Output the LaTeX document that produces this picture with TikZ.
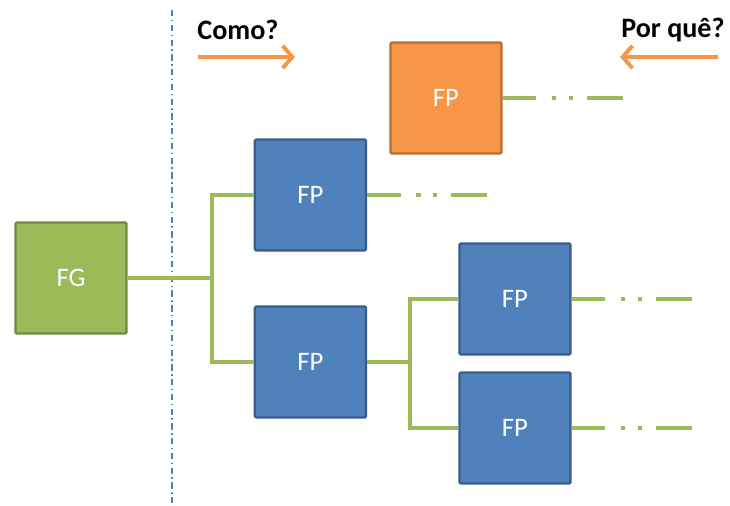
\documentclass[tikz,border=0pt]{standalone}
\usepackage{fontspec}
\setmainfont{Carlito}
\usetikzlibrary{positioning,arrows.meta}
\definecolor{fgfill}{HTML}{9BBB59}
\definecolor{fgdraw}{HTML}{71893F}
\definecolor{fpfill}{HTML}{4F81BD}
\definecolor{fpdraw}{HTML}{385D8A}
\definecolor{orfill}{HTML}{F79646}
\definecolor{ordraw}{HTML}{B66D31}
\definecolor{linkcol}{HTML}{9BBB59}
\definecolor{arrowcol}{HTML}{F79646}
\definecolor{axiscol}{HTML}{4F81BD}

\begin{document}
\begin{tikzpicture}
        \tikzstyle{box}=[rectangle, rounded corners=1pt, line width=1.6pt, inner sep=0pt, minimum size=2.78cm, text=white, font=\fontsize{19}{21}\selectfont]
        \tikzstyle{link}=[draw=linkcol, line width=2.8pt]
        \tikzstyle{trail}=[link, dash pattern=on 24pt off 11pt on 3pt off 9pt on 3pt off 9.6pt on 26pt]
        \tikzstyle{ask}=[font=\bfseries\fontsize{20}{22}\selectfont]
        \tikzstyle{dir}=[draw=arrowcol, line width=2.8pt, -{Straight Barb[length=7pt, width=16pt, line width=2.8pt]}]
        \useasboundingbox (0,0) rectangle (18.25,12.65);
        \draw[axiscol, line width=0.8pt, dash pattern=on 4.5pt off 2.5pt on 1pt off 2.5pt] (4.3,12.4) -- (4.3,0);
        \node [box, fill=fgfill, draw=fgdraw] (fg) at (1.775,5.7) {FG};
        \node [box, fill=fpfill, draw=fpdraw] (fp1) at (7.76,7.775) {FP};
        \node [box, fill=fpfill, draw=fpdraw] (fp2) at (7.76,3.6) {FP};
        \node [box, fill=fpfill, draw=fpdraw] (fp3) at (12.875,5.175) {FP};
        \node [box, fill=fpfill, draw=fpdraw] (fp4) at (12.875,1.95) {FP};
        \node [box, fill=orfill, draw=ordraw] (fp0) at (11.15,10.2) {FP};
        \coordinate (j1) at (5.3,5.7);
        \coordinate (j2) at (10.25,3.6);
        \draw[link] (fg.east) -- (j1);
        \draw[link] (fp1.west) -| (j1) |- (fp2.west);
        \draw[link] (fp2.east) -- (j2);
        \draw[link] (fp3.west) -| (j2) |- (fp4.west);
        \coordinate[right=3.1cm of fp0] (t0);
        \coordinate[right=3.1cm of fp1] (t1);
        \coordinate[right=3.15cm of fp3] (t3);
        \coordinate[right=3.15cm of fp4] (t4);
        \foreach \b/\t in {fp0/t0, fp1/t1, fp3/t3, fp4/t4}
            \draw[trail] (\b.east) -- (\t);
        \node [ask] (como) at (5.95,11.9) {Como?};
        \node [ask] (porque) at (16.825,11.9) {Por quê?};
        \coordinate (c1) at (4.95,11.225);
        \coordinate (c2) at (7.375,11.225);
        \coordinate (p1) at (17.95,11.225);
        \coordinate (p2) at (15.5,11.225);
        \draw[dir] (c1) -- (c2);
        \draw[dir] (p1) -- (p2);
    \end{tikzpicture}
\end{document}
